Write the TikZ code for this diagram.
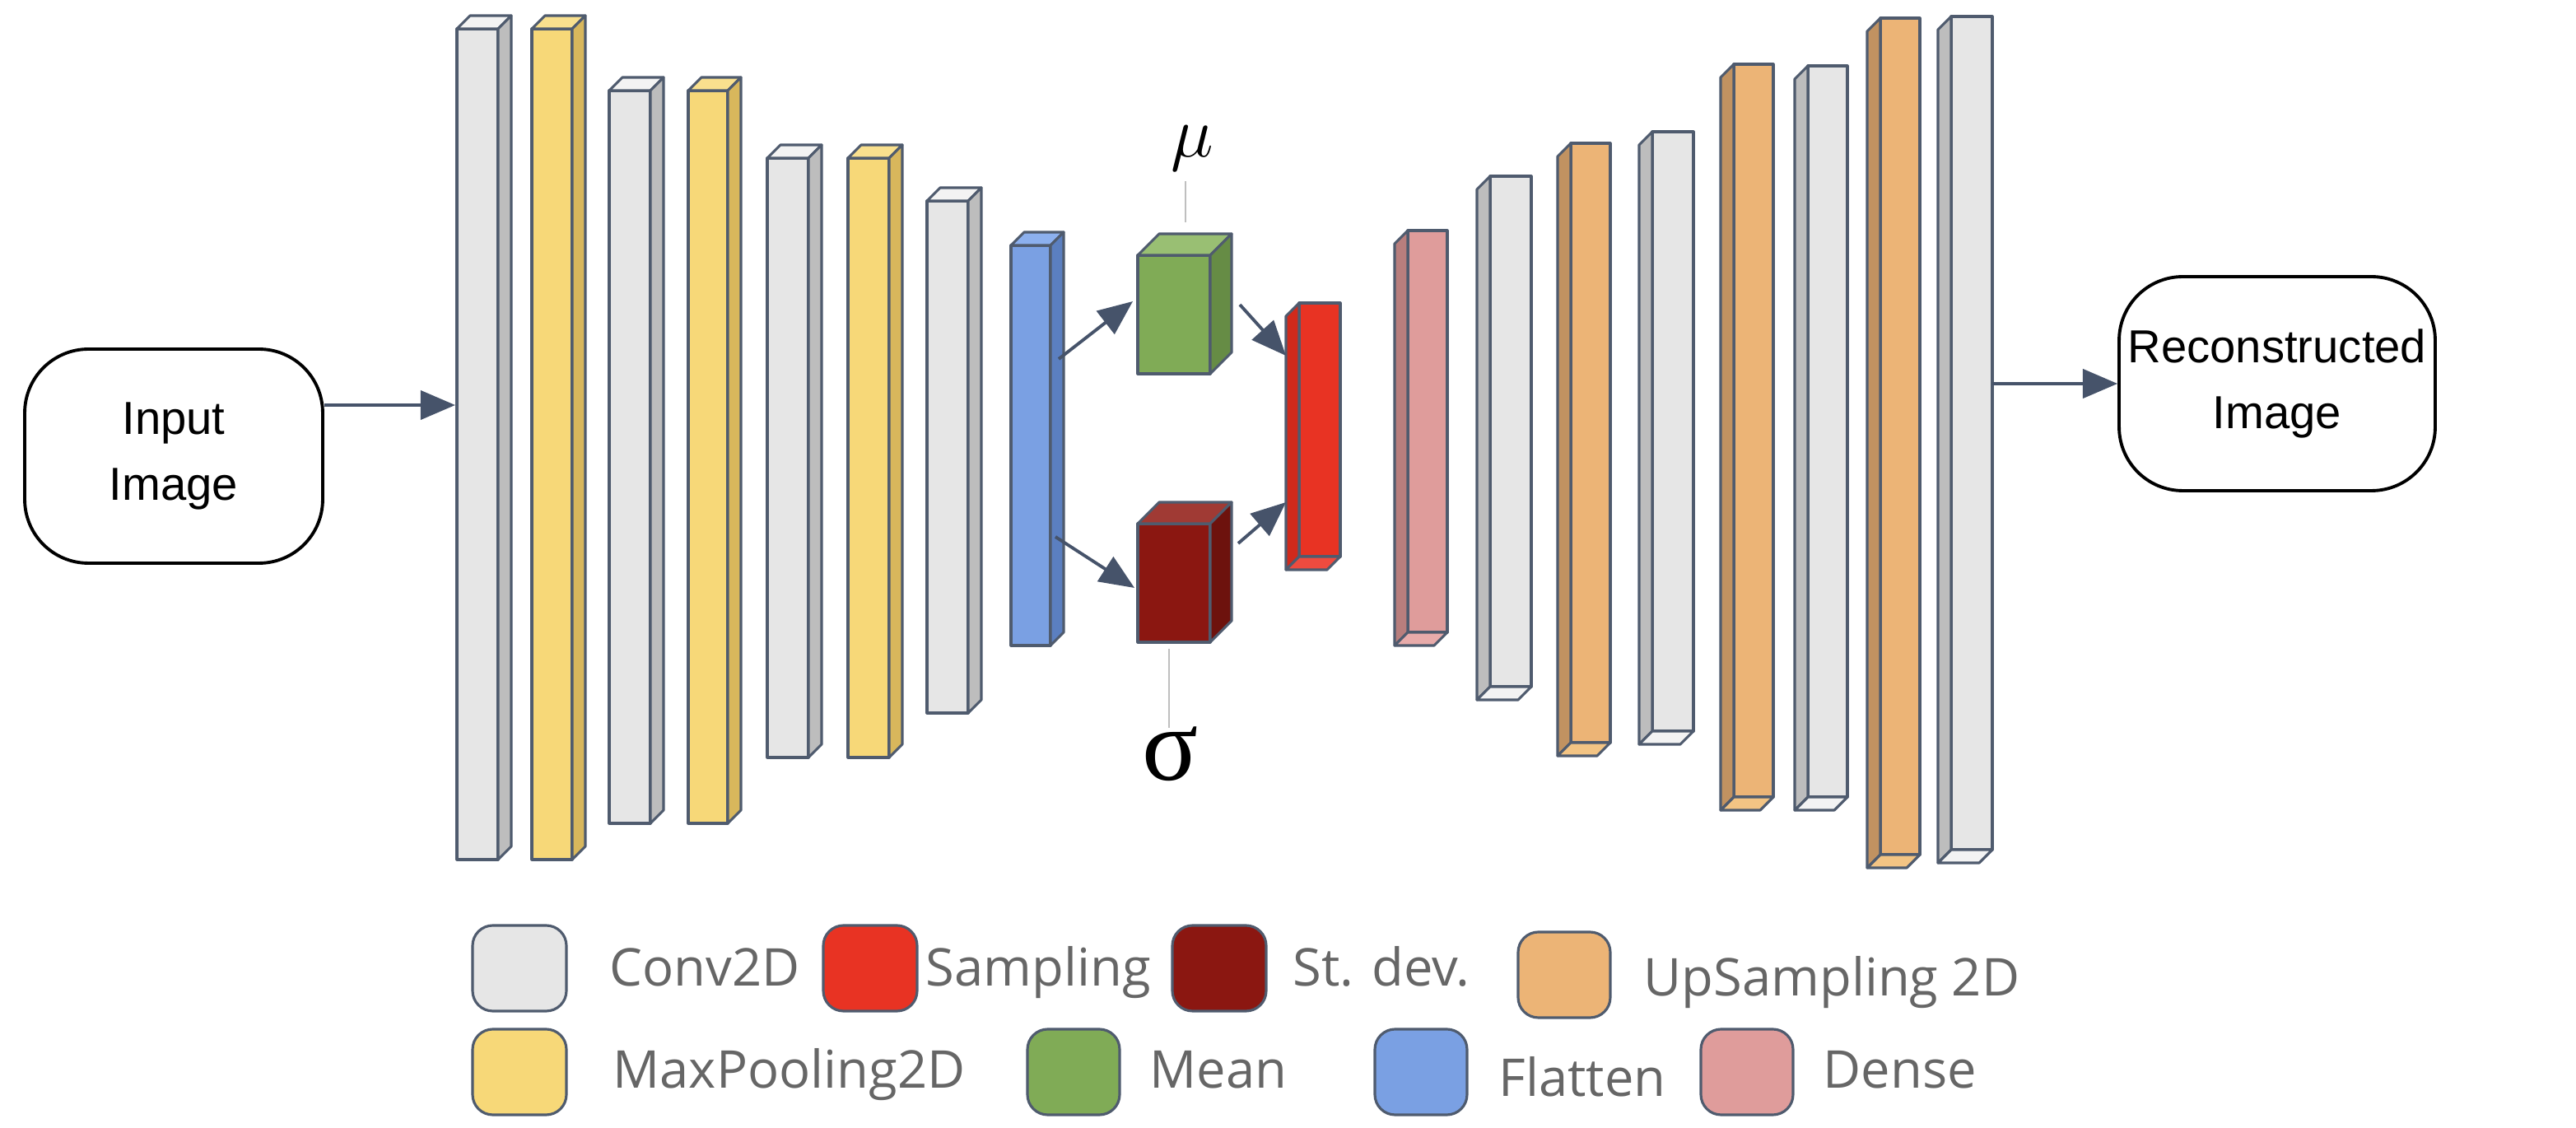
\documentclass[tikz,border=0pt]{standalone}
\usepackage{fontspec}
\setmainfont{Open Sans}
\newfontfamily\arialf{Liberation Sans}
\newfontfamily\timesf{Liberation Serif}
\usetikzlibrary{arrows.meta}
\definecolor{edge}{HTML}{4F5B6E}
\definecolor{arr}{HTML}{46536A}
\definecolor{cgray}{HTML}{E6E6E6}\definecolor{sgray}{HTML}{BDBDBD}\definecolor{tgray}{HTML}{F3F3F3}
\definecolor{cyel}{HTML}{F7D878}\definecolor{syel}{HTML}{D8B75C}\definecolor{tyel}{HTML}{F9E08E}
\definecolor{cblue}{HTML}{7AA0E3}\definecolor{sblue}{HTML}{5B7FC0}\definecolor{tblue}{HTML}{8CB0EE}
\definecolor{cgreen}{HTML}{80AB56}\definecolor{sgreen}{HTML}{668C45}\definecolor{tgreen}{HTML}{99BF73}
\definecolor{cdred}{HTML}{8B1711}\definecolor{sdred}{HTML}{6D120D}\definecolor{tdred}{HTML}{A03A34}
\definecolor{cred}{HTML}{E83323}\definecolor{sred}{HTML}{D02A1C}\definecolor{tred}{HTML}{EE4B3F}
\definecolor{cpink}{HTML}{DF9C9B}\definecolor{spink}{HTML}{B87E7D}\definecolor{tpink}{HTML}{E8ABAA}
\definecolor{corg}{HTML}{ECB476}\definecolor{sorg}{HTML}{C19261}\definecolor{torg}{HTML}{F3C484}
\definecolor{ltext}{HTML}{666666}
\tikzset{
  face/.style={draw=edge,line width=0.9pt,line join=round},
  conn/.style={draw=arr,line width=1.1pt,-{Triangle[length=12pt,width=10pt]}},
  stub/.style={draw=black!25,line width=0.8pt},
  io/.style={draw=black,line width=1.1pt,rounded corners=22pt,align=center,
    font=\arialf\fontsize{16}{23}\selectfont,inner sep=0pt},
  sw/.style={draw=edge,line width=0.9pt,rounded corners=7pt},
  lg/.style={anchor=base west,text=ltext,font=\fontsize{18}{22}\selectfont,inner sep=0pt},
}
\newcommand\encbox[8]{%
  \fill[#5,face] (#1,#3) rectangle (#2,#4);
  \fill[#7,face] (#1,#3) -- ++(#8,-#8) -- ({#2+#8},{#3-#8}) -- (#2,#3) -- cycle;
  \fill[#6,face] (#2,#3) -- ++(#8,-#8) -- ({#2+#8},{#4-#8}) -- (#2,#4) -- cycle;}
\newcommand\decbox[8]{%
  \fill[#5,face] (#1,#3) rectangle (#2,#4);
  \fill[#6,face] (#1,#3) -- ++(-#8,#8) -- ({#1-#8},{#4+#8}) -- (#1,#4) -- cycle;
  \fill[#7,face] (#1,#4) -- ++(-#8,#8) -- ({#2-#8},{#4+#8}) -- (#2,#4) -- cycle;}
\begin{document}
\begin{tikzpicture}[x=0.02cm,y=-0.02cm]
\useasboundingbox (0,0) rectangle (1564.5,685);
\encbox{277.5}{302.5}{17.5}{522}{cgray}{sgray}{tgray}{8}
\encbox{323}{347.5}{17.5}{522}{cyel}{syel}{tyel}{8}
\encbox{370}{395}{55}{500}{cgray}{sgray}{tgray}{8}
\encbox{418}{442}{55}{500}{cyel}{syel}{tyel}{8}
\encbox{466}{491}{96}{460}{cgray}{sgray}{tgray}{8}
\encbox{515}{540}{96}{460}{cyel}{syel}{tyel}{8}
\encbox{563}{588}{122}{433}{cgray}{sgray}{tgray}{8}
\encbox{614}{638}{149}{392}{cblue}{sblue}{tblue}{8}
\encbox{691}{735}{155}{227}{cgreen}{sgreen}{tgreen}{13}
\encbox{691}{735}{318}{390}{cdred}{sdred}{tdred}{13}
\decbox{789}{814}{184}{338}{cred}{sred}{tred}{8}
\decbox{855}{879}{140}{384}{cpink}{spink}{tpink}{8}
\decbox{905}{930}{107}{417}{cgray}{sgray}{tgray}{8}
\decbox{954}{978}{87}{451}{corg}{sorg}{torg}{8}
\decbox{1003.5}{1028.5}{80}{444}{cgray}{sgray}{tgray}{8}
\decbox{1053}{1077}{39}{484}{corg}{sorg}{torg}{8}
\decbox{1098}{1122}{40}{484}{cgray}{sgray}{tgray}{8}
\decbox{1142}{1166}{11}{519}{corg}{sorg}{torg}{8}
\decbox{1185}{1210}{10}{516}{cgray}{sgray}{tgray}{8}
\node[io,minimum width=3.62cm,minimum height=2.6cm] (in) at (105.5,277) {Input\\Image};
\node[io,minimum width=3.84cm,minimum height=2.6cm] (out) at (1383,233) {Reconstructed\\Image};
\coordinate (e1) at (276.5,246);
\coordinate (d9) at (1210,233);
\draw[conn] (in.east |- e1) -- (e1);
\draw[conn] (d9) -- (out.west |- d9);
\coordinate (b1) at (643,218); \coordinate (g1) at (688,183);
\coordinate (b2) at (641,326); \coordinate (r1) at (689,357);
\coordinate (g2) at (753,185); \coordinate (s1) at (781,216);
\coordinate (r2) at (752,330); \coordinate (s2) at (781,305);
\draw[conn] (b1) -- (g1);
\draw[conn] (b2) -- (r1);
\draw[conn] (g2) -- (s1);
\draw[conn] (r2) -- (s2);
\node[inner sep=0pt] (mu) at (724,90) {\fontsize{40}{40}\selectfont$\mu$};
\coordinate (mub) at (720,135); \coordinate (mut) at (720,110);
\draw[stub] (mut) -- (mub);
\node[inner sep=0pt] (sig) at (711,458) {\timesf\fontsize{36}{36}\selectfont σ};
\coordinate (sgt) at (710,394); \coordinate (sgb) at (710,442);
\draw[stub] (sgt) -- (sgb);
\draw[sw,fill=cgray] (287,562) rectangle (344,614);
\node[lg] (l1) at (370,599) {Conv2D};
\draw[sw,fill=cred] (500,562) rectangle (557,614);
\node[lg] (l2) at (562,599) {Sampling};
\draw[sw,fill=cdred] (712,562) rectangle (769,614);
\node[lg] (l3) at (785,599) {St. dev.};
\draw[sw,fill=corg] (922,566) rectangle (978,618);
\node[lg] (l4) at (998,605) {UpSampling 2D};
\draw[sw,fill=cyel] (287,625) rectangle (344,677);
\node[lg] (l5) at (372,661) {MaxPooling2D};
\draw[sw,fill=cgreen] (624,625) rectangle (680,677);
\node[lg] (l6) at (698,661) {Mean};
\draw[sw,fill=cblue] (835,625) rectangle (891,677);
\node[lg] (l7) at (910,666) {Flatten};
\draw[sw,fill=cpink] (1033,625) rectangle (1089,677);
\node[lg] (l8) at (1107,661) {Dense};
\end{tikzpicture}
\end{document}
